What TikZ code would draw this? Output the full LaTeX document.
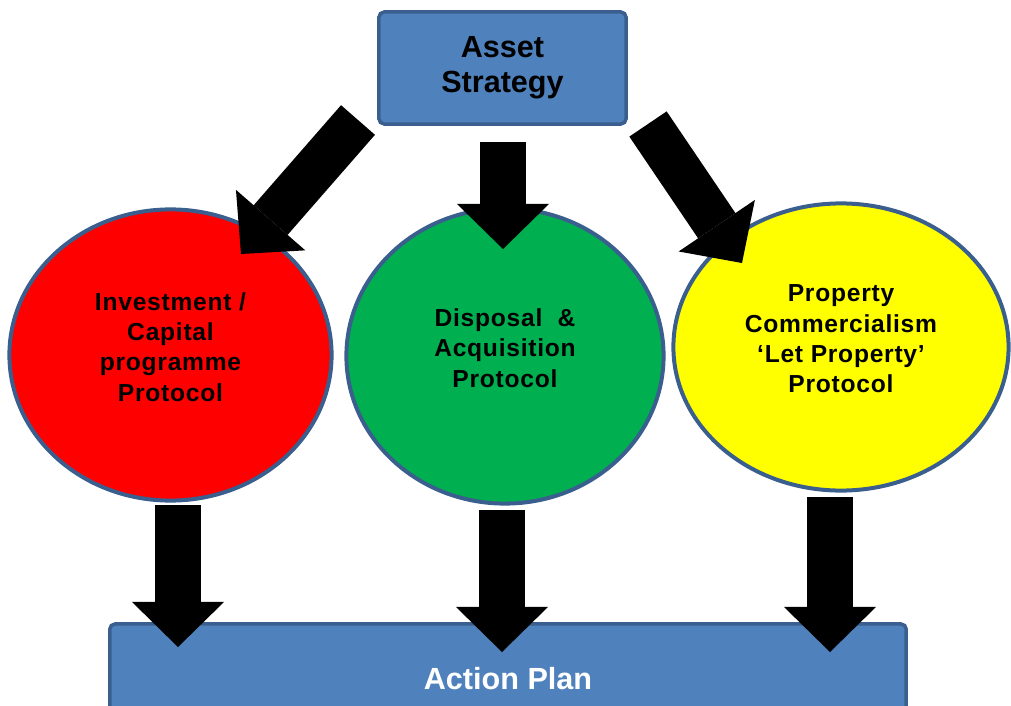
\documentclass[tikz,border=0pt]{standalone}
\usepackage{fontspec}
\setmainfont{Liberation Sans}
\usetikzlibrary{positioning,shapes.geometric,arrows.meta}
\definecolor{plan blue}{HTML}{4F81BD}
\definecolor{plan border}{HTML}{3A5F8E}
\definecolor{protocol red}{HTML}{FF0000}
\definecolor{protocol green}{HTML}{00B050}
\definecolor{protocol yellow}{HTML}{FFFF00}
\tikzset{
    plan box/.style={
        rectangle,
        fill=plan blue,
        draw=plan border,
        line width=0.035cm,
        rounded corners=1.5pt,
        inner sep=0pt,
        align=center,
        font=\fontsize{8.7}{10}\selectfont\bfseries
    },
    protocol/.style={
        ellipse,
        fill=#1,
        draw=plan border,
        line width=0.04cm,
        inner sep=0pt
    },
    protocol label/.style={align=center, text=black,
        font=\fontsize{7}{8.6}\selectfont\bfseries\addfontfeatures{LetterSpace=3}},
    with label/.style={label={[protocol label, yshift=0.08cm]center:#1}},
    block arrow/.style={
        line width=0.45cm,
        black,
        -{Triangle[length=0.45cm, width=0.92cm, line width=0pt]}
    }
}

\begin{document}
\begin{tikzpicture}[x=0.01cm, y=-0.01cm]
\useasboundingbox (0,0) rectangle (1011,706);
\clip (0,0) rectangle (1011,706);

% Strategy on top, action plan at the bottom
\node[plan box, minimum width=2.47cm, minimum height=1.12cm] (strategy) at (502.5,68) {Asset\\Strategy};
\node[plan box, text=white, minimum width=7.96cm, minimum height=1.10cm] (action) at (508,679) {Action Plan};

% The three protocols
\node[protocol=protocol red, minimum width=3.22cm, minimum height=2.91cm,
      with label={Investment /\\Capital\\programme\\Protocol}] (invest) at (170.5,355) {};
\node[protocol=protocol green, minimum width=3.17cm, minimum height=2.95cm,
      with label={Disposal \ \&\\Acquisition\\Protocol}] (disposal) at (505,356) {};
\node[protocol=protocol yellow, minimum width=3.35cm, minimum height=2.87cm,
      with label={Property\\Commercialism\\‘Let Property’\\Protocol}] (letprop) at (841,347) {};

% Arrow ends
\coordinate (strategy left)  at (358,120);
\coordinate (strategy mid)   at (503,142);
\coordinate (strategy right) at (648,124);
\coordinate (invest in)   at (241,254);
\coordinate (disposal in) at (503,249);
\coordinate (letprop in)  at (742,263);
\coordinate (invest out)   at (178,505);
\coordinate (disposal out) at (502,510);
\coordinate (letprop out)  at (830,497);
\coordinate (action left)  at (178,647);
\coordinate (action mid)   at (502,652);
\coordinate (action right) at (830,652);

% Strategy feeds each protocol
\draw[block arrow] (strategy left) -- (invest in);
\draw[block arrow] (strategy mid) -- (disposal in);
\draw[block arrow] (strategy right) -- (letprop in);

% Each protocol feeds the action plan
\draw[block arrow] (invest out) -- (action left);
\draw[block arrow] (disposal out) -- (action mid);
\draw[block arrow] (letprop out) -- (action right);

\end{tikzpicture}
\end{document}
